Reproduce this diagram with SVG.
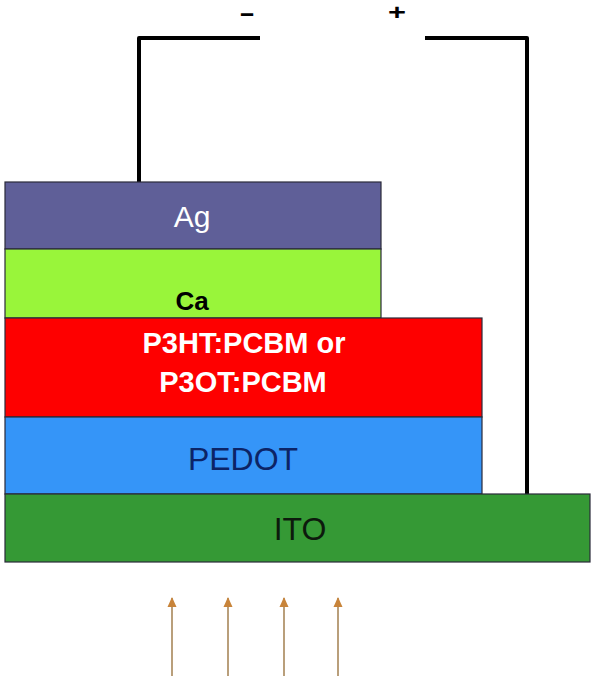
<svg xmlns="http://www.w3.org/2000/svg" width="591" height="679" viewBox="0 0 591 679">
<defs>
<style>
.layer{stroke:#2a2a3a;stroke-width:1.2}
.wire{fill:none;stroke:#000;stroke-width:4;stroke-linejoin:round}
.t{font-family:"Liberation Sans",Arial,sans-serif;text-anchor:middle}
.ray{stroke:#a8875a;stroke-width:1.6}
</style>
<marker id="ah" markerWidth="10" markerHeight="10" refX="9" refY="5" orient="auto" markerUnits="userSpaceOnUse" viewBox="0 0 10 10">
<path d="M0,0.5 L10,5 L0,9.5 Z" fill="#c8843a"/>
</marker>
</defs>
<rect width="591" height="679" fill="#fff"/>
<g id="connectors">
<path class="wire" d="M139,182 V38 H260"/>
<path class="wire" d="M425,38 H527 V494"/>
<path class="ray" d="M172,676 V598" marker-end="url(#ah)"/>
<path class="ray" d="M228,676 V598" marker-end="url(#ah)"/>
<path class="ray" d="M284,676 V598" marker-end="url(#ah)"/>
<path class="ray" d="M338,676 V598" marker-end="url(#ah)"/>
</g>
<g id="minus"><text class="t" x="0" y="20" font-size="22" font-weight="bold" transform="translate(247,0) scale(2.2,1)">-</text></g>
<g id="plus"><text class="t" x="0" y="20" font-size="22" font-weight="bold" transform="translate(397,0) scale(1.4,1)">+</text></g>
<g id="ag">
<rect class="layer" x="5" y="182" width="376" height="67" fill="#5f5f98"/>
<text class="t" x="192" y="227" font-size="30" fill="#fff">Ag</text>
</g>
<g id="ca">
<rect class="layer" x="5" y="249" width="376" height="69" fill="#99f53a"/>
<text class="t" x="192" y="310" font-size="26" font-weight="bold" fill="#000">Ca</text>
</g>
<g id="active">
<rect class="layer" x="5" y="318" width="477" height="99" fill="#fe0000"/>
<text class="t" x="244" y="353" font-size="29" font-weight="bold" fill="#fff">P3HT:PCBM or</text>
<text class="t" x="243" y="392" font-size="29" font-weight="bold" fill="#fff">P3OT:PCBM</text>
</g>
<g id="pedot">
<rect class="layer" x="5" y="417" width="477" height="77" fill="#3595f8"/>
<text class="t" x="243" y="470" font-size="32" fill="#0c2466">PEDOT</text>
</g>
<g id="ito">
<rect class="layer" x="5" y="494" width="585" height="68" fill="#359935"/>
<text class="t" x="300" y="540" font-size="32" fill="#0d1a0d">ITO</text>
</g>
</svg>
